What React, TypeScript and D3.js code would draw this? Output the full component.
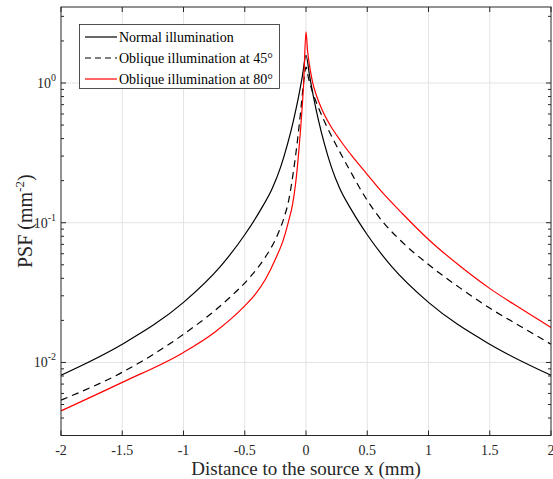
import React, { useEffect, useRef } from 'react';
import * as d3 from 'd3';

// values (x in mm, PSF in mm^-2)
const normalX = [-2, -1.5, -1, -0.7, -0.5, -0.372, -0.274, -0.208, -0.151, -0.102, -0.061, -0.029, 0, 0.029, 0.061, 0.102, 0.151, 0.208, 0.274, 0.372, 0.5, 0.7, 1, 1.5, 2];
const normalY = [0.0081, 0.0135, 0.0269, 0.0485, 0.082, 0.123, 0.177, 0.249, 0.365, 0.541, 0.796, 1.13, 1.58, 1.13, 0.796, 0.541, 0.365, 0.249, 0.177, 0.123, 0.082, 0.0485, 0.0269, 0.0135, 0.0081];

const obl45X = [-2, -1.5, -1, -0.641, -0.453, -0.331, -0.241, -0.176, -0.143, -0.119, -0.094, -0.069, -0.045, -0.02, 0, 0.02, 0.053, 0.102, 0.167, 0.249, 0.364, 0.486, 0.625, 0.772, 1, 1.262, 1.499, 1.753, 2];
const obl45Y = [0.00537, 0.00851, 0.0159, 0.0282, 0.0412, 0.0569, 0.0787, 0.111, 0.142, 0.187, 0.264, 0.392, 0.61, 1.0, 1.3, 1.09, 0.865, 0.665, 0.494, 0.356, 0.232, 0.151, 0.102, 0.0746, 0.0502, 0.0339, 0.0245, 0.0181, 0.0135];

const obl80X = [-2, -1.5, -1, -0.748, -0.502, -0.413, -0.331, -0.249, -0.184, -0.143, -0.11, -0.086, -0.045, -0.02, 0, 0.012, 0.029, 0.053, 0.086, 0.135, 0.2, 0.282, 0.38, 0.494, 0.625, 0.788, 1, 1.262, 1.499, 1.753, 2];
const obl80Y = [0.0045, 0.0072, 0.0118, 0.0164, 0.0253, 0.0308, 0.0394, 0.055, 0.076, 0.102, 0.135, 0.187, 0.46, 0.96, 2.32, 1.73, 1.33, 1.02, 0.81, 0.633, 0.494, 0.386, 0.297, 0.225, 0.164, 0.116, 0.0759, 0.0486, 0.0339, 0.0243, 0.0178];

const xTicks = [-2, -1.5, -1, -0.5, 0, 0.5, 1, 1.5, 2];
const yDecades = [-2, -1, 0];
const legendLabels = ['Normal illumination', 'Oblique illumination at 45\u00b0', 'Oblique illumination at 80\u00b0'];

const App = () => {
  const ref = useRef<HTMLDivElement>(null);

  useEffect(() => {
    d3.select(ref.current).selectAll('*').remove();

    const width = 553;
    const height = 479;
    const left = 61;
    const right = 551;
    const top = 7;
    const bottom = 435.5;
    const axisColor = '#262626';
    const font = 'Liberation Serif';

    const svg = d3
      .select(ref.current)
      .append('svg')
      .attr('width', width)
      .attr('height', height)
      .attr('font-family', font)
      .style('position', 'absolute')
      .style('left', '0px')
      .style('top', '0px');

    const x = d3.scaleLinear().domain([-2, 2]).range([left, right]);
    const y = d3.scaleLog().domain([0.003, 3.5]).range([bottom, top]);

    svg.append('rect').attr('width', width).attr('height', height).attr('fill', 'white');

    // grid
    const grid = svg.append('g').attr('stroke', '#e3e3e3').attr('stroke-width', 1);
    xTicks.slice(1, -1).forEach((t) => {
      grid.append('line').attr('x1', x(t)).attr('x2', x(t)).attr('y1', top).attr('y2', bottom);
    });
    yDecades.forEach((d) => {
      grid.append('line').attr('x1', left).attr('x2', right).attr('y1', y(10 ** d)).attr('y2', y(10 ** d));
    });

    // curves
    const line = d3
      .line<[number, number]>()
      .x((d) => x(d[0]))
      .y((d) => y(d[1]))
      .curve(d3.curveMonotoneX);

    const series = [
      { xs: normalX, ys: normalY, color: '#000000', dash: null },
      { xs: obl45X, ys: obl45Y, color: '#000000', dash: '7,5' },
      { xs: obl80X, ys: obl80Y, color: '#ff0000', dash: null },
    ];

    series.forEach((s) => {
      const pts = s.xs.map((v, i) => [v, s.ys[i]] as [number, number]);
      svg
        .append('path')
        .attr('d', line(pts))
        .attr('fill', 'none')
        .attr('stroke', s.color)
        .attr('stroke-width', 1.2)
        .attr('stroke-dasharray', s.dash);
    });

    // axes box and ticks
    const ax = svg.append('g').attr('stroke', axisColor).attr('stroke-width', 1).attr('fill', 'none');
    ax.append('rect')
      .attr('x', left)
      .attr('y', top)
      .attr('width', right - left)
      .attr('height', bottom - top);

    xTicks.forEach((t) => {
      ax.append('line').attr('x1', x(t)).attr('x2', x(t)).attr('y1', bottom).attr('y2', bottom - 5);
      ax.append('line').attr('x1', x(t)).attr('x2', x(t)).attr('y1', top).attr('y2', top + 5);
    });

    const yTickVals: number[] = [];
    for (let d = -3; d <= 0; d++) {
      for (let m = 1; m <= 9; m++) {
        const v = m * 10 ** d;
        if (v >= 0.003 && v <= 3.5) yTickVals.push(v);
      }
    }
    yTickVals.forEach((v) => {
      const major = Math.abs(Math.log10(v) - Math.round(Math.log10(v))) < 1e-9;
      const len = major ? 5 : 3;
      ax.append('line').attr('x1', left).attr('x2', left + len).attr('y1', y(v)).attr('y2', y(v));
      ax.append('line').attr('x1', right).attr('x2', right - len).attr('y1', y(v)).attr('y2', y(v));
    });

    // tick labels
    svg
      .append('g')
      .selectAll('text')
      .data(xTicks)
      .join('text')
      .attr('x', (d) => x(d))
      .attr('y', 455)
      .attr('text-anchor', 'middle')
      .attr('font-size', 14)
      .attr('fill', axisColor)
      .text((d) => String(d));

    const yl = svg
      .append('g')
      .selectAll('text')
      .data(yDecades)
      .join('text')
      .attr('x', 56)
      .attr('y', (d) => y(10 ** d) + 5)
      .attr('text-anchor', 'end')
      .attr('font-size', 14)
      .attr('fill', axisColor);
    yl.append('tspan').text('10');
    yl.append('tspan')
      .attr('font-size', 10)
      .attr('dy', -7)
      .text((d) => String(d));

    // axis labels
    svg
      .append('text')
      .attr('x', (left + right) / 2)
      .attr('y', 475)
      .attr('text-anchor', 'middle')
      .attr('font-size', 19)
      .attr('fill', axisColor)
      .text('Distance to the source x (mm)');

    const yLab = svg
      .append('text')
      .attr('transform', `translate(32, ${(top + bottom) / 2}) rotate(-90)`)
      .attr('text-anchor', 'middle')
      .attr('font-size', 20)
      .attr('fill', axisColor);
    yLab.append('tspan').text('PSF (mm');
    yLab.append('tspan').attr('font-size', 13).attr('dy', -8).text('-2');
    yLab.append('tspan').attr('dy', 8).text(')');

    // legend
    const lg = svg.append('g');
    lg.append('rect')
      .attr('x', 79.5)
      .attr('y', 24.5)
      .attr('width', 200)
      .attr('height', 64)
      .attr('fill', 'white')
      .attr('stroke', axisColor)
      .attr('stroke-width', 0.8);
    series.forEach((s, i) => {
      const cy = 37 + i * 21;
      lg.append('line')
        .attr('x1', 85)
        .attr('x2', 117)
        .attr('y1', cy)
        .attr('y2', cy)
        .attr('stroke', s.color)
        .attr('stroke-width', 1.2)
        .attr('stroke-dasharray', s.dash ? '6,4' : null);
      lg.append('text')
        .attr('x', 119)
        .attr('y', cy + 5)
        .attr('font-size', 14)
        .attr('fill', '#000')
        .text(legendLabels[i]);
    });
  }, []);

  return <div ref={ref} />;
};

export default App;
